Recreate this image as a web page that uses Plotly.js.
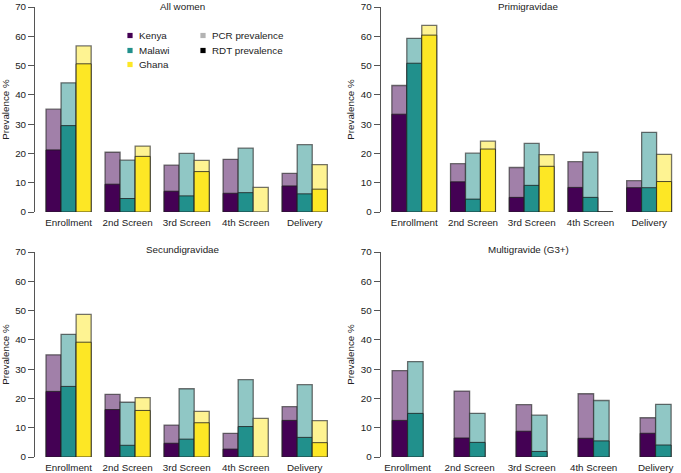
<!DOCTYPE html>
<html>
<head>
<meta charset="utf-8">
<script src="https://cdn.plot.ly/plotly-3.0.1.min.js"></script>
<style>html,body{margin:0;padding:0;background:#fff;}#chart{width:681px;height:473px;}</style>
</head>
<body>
<div id="chart"></div>
<script>
// ---- data ----
const categories = ["Enrollment", "2nd Screen", "3rd Screen", "4th Screen", "Delivery"];
const countries = ["Kenya", "Malawi", "Ghana"];
const panelTitles = ["All women", "Primigravidae", "Secundigravidae", "Multigravide (G3+)"];

// All women
const allKenyaPCR  = [35.1, 20.4, 16.0, 18.0, 13.2];
const allKenyaRDT  = [21.2, 9.5, 7.1, 6.4, 8.9];
const allMalawiPCR = [44.1, 17.7, 20.0, 21.8, 23.0];
const allMalawiRDT = [29.5, 4.6, 5.5, 6.6, 6.2];
const allGhanaPCR  = [56.7, 22.5, 17.6, 8.4, 16.2];
const allGhanaRDT  = [50.6, 19.0, 13.8, null, 7.8];

// Primigravidae
const primKenyaPCR  = [43.2, 16.5, 15.2, 17.2, 10.7];
const primKenyaRDT  = [33.4, 10.3, 5.0, 8.4, 8.3];
const primMalawiPCR = [59.3, 20.1, 23.4, 20.4, 27.2];
const primMalawiRDT = [50.8, 4.4, 9.1, 5.0, 8.3];
const primGhanaPCR  = [63.7, 24.2, 19.6, 0, 19.7];
const primGhanaRDT  = [60.4, 21.5, 15.6, 0, 10.4];

// Secundigravidae
const secKenyaPCR  = [34.9, 21.4, 10.9, 8.1, 17.2];
const secKenyaRDT  = [22.4, 16.2, 4.7, 2.7, 12.5];
const secMalawiPCR = [41.9, 18.7, 23.3, 26.4, 24.7];
const secMalawiRDT = [24.1, 4.0, 6.1, 10.4, 6.7];
const secGhanaPCR  = [48.7, 20.3, 15.6, 13.2, 12.4];
const secGhanaRDT  = [39.2, 15.9, 11.7, null, 4.9];

// Multigravide (G3+)
const multKenyaPCR  = [29.5, 22.5, 17.9, 21.6, 13.4];
const multKenyaRDT  = [12.5, 6.5, 8.8, 6.4, 8.1];
const multMalawiPCR = [32.6, 14.9, 14.3, 19.3, 18.0];
const multMalawiRDT = [14.9, 5.0, 1.9, 5.5, 4.1];

// ---- styling ----
const W = 681, H = 473;
const px = x => x / W;
const py = y => 1 - y / H;
const FONT = "Liberation Sans, Arial, Helvetica, sans-serif";
const dark = {Kenya: "#440154", Malawi: "#21908C", Ghana: "#FDE725"};
const light = {Kenya: "#A180A9", Malawi: "#90C7C5", Ghana: "#FEF392"};

const panels = [
  {ax: "", series: {Kenya: [allKenyaPCR, allKenyaRDT], Malawi: [allMalawiPCR, allMalawiRDT], Ghana: [allGhanaPCR, allGhanaRDT]},
   xdom: [35, 336], ydom: [212, 7], xrange: [-0.569, 4.53]},
  {ax: "2", series: {Kenya: [primKenyaPCR, primKenyaRDT], Malawi: [primMalawiPCR, primMalawiRDT], Ghana: [primGhanaPCR, primGhanaRDT]},
   xdom: [380.7, 679], ydom: [212, 7], xrange: [-0.572, 4.509]},
  {ax: "3", series: {Kenya: [secKenyaPCR, secKenyaRDT], Malawi: [secMalawiPCR, secMalawiRDT], Ghana: [secGhanaPCR, secGhanaRDT]},
   xdom: [35, 336], ydom: [457, 252], xrange: [-0.569, 4.53]},
  {ax: "4", series: {Kenya: [multKenyaPCR, multKenyaRDT], Malawi: [multMalawiPCR, multMalawiRDT]},
   xdom: [380.7, 679], ydom: [457, 252], xrange: [-0.434, 4.377]}
];

const traces = [];
const layout = {
  width: W, height: H,
  margin: {l: 0, r: 0, t: 0, b: 0},
  paper_bgcolor: "#fff", plot_bgcolor: "#fff",
  barmode: "overlay",
  showlegend: false,
  font: {family: FONT, size: 9.8, color: "#222"},
  annotations: [], shapes: []
};

panels.forEach((p, pi) => {
  const names = Object.keys(p.series);
  const n = names.length;
  const bw = n === 3 ? 0.255 : 0.25;
  names.forEach((c, ci) => {
    const off = -n * bw / 2 + ci * bw;
    const [pcr, rdt] = p.series[c];
    traces.push({type: "bar", x: categories, y: pcr, name: c + " PCR",
      xaxis: "x" + p.ax, yaxis: "y" + p.ax, offset: off, width: bw,
      marker: {color: light[c], line: {color: "rgba(40,40,40,0.65)", width: 1.3}}, hoverinfo: "y"});
    traces.push({type: "bar", x: categories, y: rdt, name: c + " RDT",
      xaxis: "x" + p.ax, yaxis: "y" + p.ax, offset: off, width: bw,
      marker: {color: dark[c], line: {color: "rgba(30,30,30,0.8)", width: 1}}, hoverinfo: "y"});
  });
  layout["xaxis" + p.ax] = {
    type: "category", categoryarray: categories, range: p.xrange,
    domain: [px(p.xdom[0]), px(p.xdom[1])], anchor: "y" + p.ax,
    showline: false, showgrid: false, zeroline: false, ticks: "",
    ticklabelstandoff: 3,
    tickfont: {family: FONT, size: 9.8, color: "#222"}, fixedrange: true
  };
  layout["yaxis" + p.ax] = {
    range: [0, 70], dtick: 10, tick0: 0,
    domain: [py(p.ydom[0]), py(p.ydom[1])], anchor: "x" + p.ax,
    showline: true, linecolor: "#555", linewidth: 1,
    ticks: "outside", ticklen: 6, tickcolor: "#555", tickwidth: 1,
    showgrid: false, zeroline: false,
    tickfont: {family: FONT, size: 9.8, color: "#222"},
    title: {text: "Prevalence %", font: {family: FONT, size: 9.8, color: "#222"}, standoff: 4},
    fixedrange: true
  };
  const tx = pi % 2 === 0 ? 183 : 528;
  const ty = pi < 2 ? 6 : 249.5;
  layout.annotations.push({text: panelTitles[pi], xref: "paper", yref: "paper",
    x: px(tx), y: py(ty), xanchor: "center", yanchor: "middle", showarrow: false,
    font: {family: FONT, size: 9.8, color: "#222"}});
});

// legend (inside the "All women" panel)
const legendItems = [
  {label: countries[0], color: dark.Kenya, x: 130, y: 35.5},
  {label: countries[1], color: dark.Malawi, x: 130, y: 50.5},
  {label: countries[2], color: dark.Ghana, x: 130, y: 64.5},
  {label: "PCR prevalence", color: "#b3b3b3", x: 203, y: 35.5},
  {label: "RDT prevalence", color: "#000000", x: 203, y: 50.5}
];
legendItems.forEach(it => {
  layout.shapes.push({type: "rect", xref: "paper", yref: "paper",
    x0: px(it.x - 2.6), x1: px(it.x + 2.6), y0: py(it.y + 2.6), y1: py(it.y - 2.6),
    fillcolor: it.color, line: {width: 0}});
  layout.annotations.push({text: it.label, xref: "paper", yref: "paper",
    x: px(it.x + 7), y: py(it.y), xanchor: "left", yanchor: "middle", showarrow: false,
    font: {family: FONT, size: 9.8, color: "#222"}});
});

Plotly.newPlot("chart", traces, layout, {displayModeBar: false, staticPlot: true});
</script>
</body>
</html>
